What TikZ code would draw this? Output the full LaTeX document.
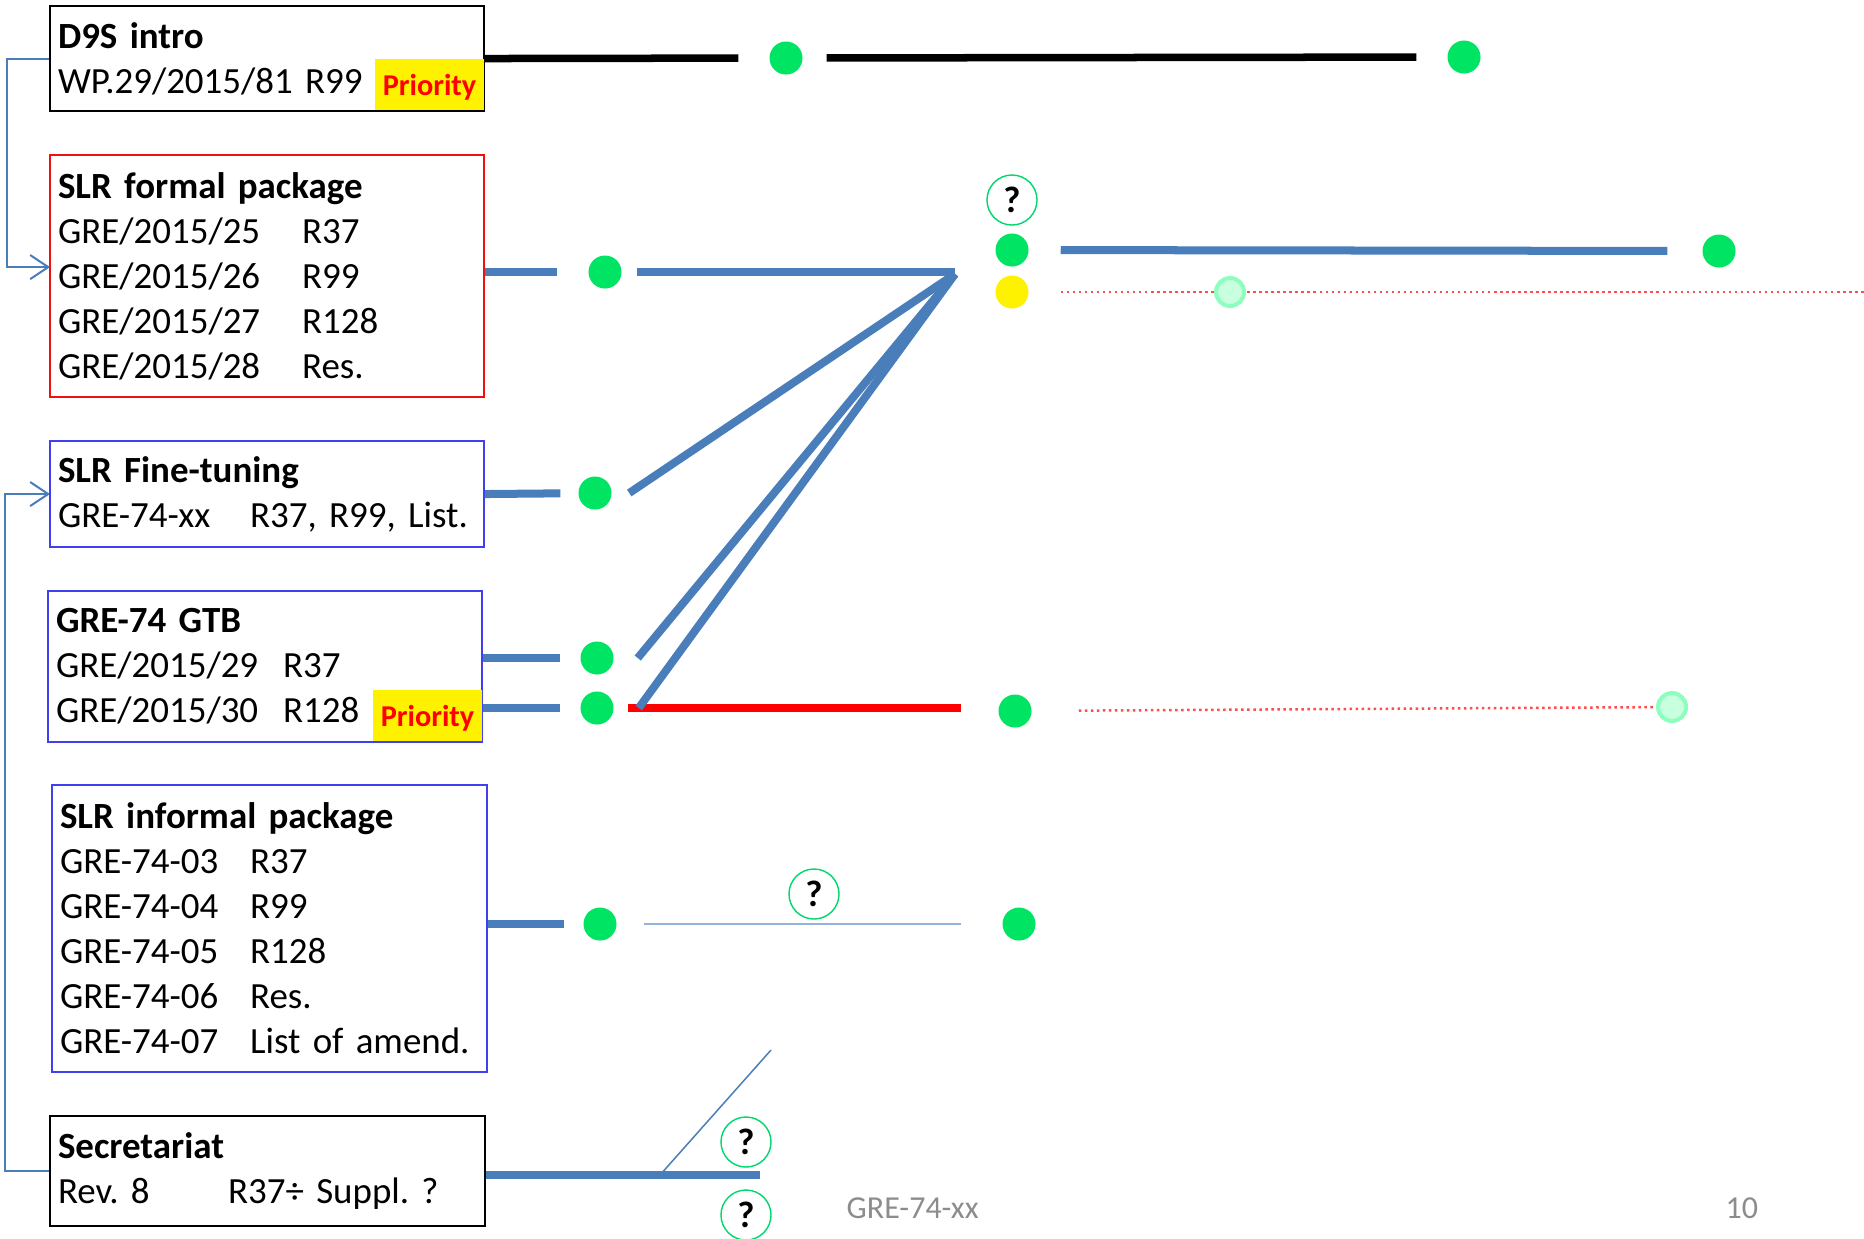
\documentclass[tikz,border=0pt]{standalone}
\usepackage{fontspec}
\setmainfont[WordSpace=0.85]{Carlito}
\usepackage{tikz}
\usetikzlibrary{arrows.meta,positioning,calc}
\pgfdeclarelayer{bg}
\pgfsetlayers{bg,main}
\frenchspacing

\definecolor{barblue}{RGB}{74,126,187}
\definecolor{paleblue}{RGB}{149,179,215}
\definecolor{boxblue}{RGB}{64,64,240}
\definecolor{boxred}{RGB}{240,16,16}
\definecolor{dotgreen}{RGB}{0,228,100}
\definecolor{fadegreen}{RGB}{140,255,190}
\definecolor{fadefill}{RGB}{200,255,222}
\definecolor{ringgreen}{RGB}{0,215,110}
\definecolor{footgray}{RGB}{140,140,140}

\newcommand{\gretxt}{\fontsize{10.5}{12.8}\selectfont}
\newcommand{\tabcol}[2]{\makebox[#1][l]{#2}}

\tikzset{
  docbox/.style={draw, line width=0.6pt, anchor=north west, align=left,
    inner xsep=0.08cm, inner ysep=0pt, outer sep=0pt, font=\gretxt},
  priotag/.style={fill=yellow, anchor=south east, minimum width=1.08cm,
    minimum height=0.51cm, inner sep=0pt, text=red, text height=0.26cm, text depth=0.04cm,
    font=\fontsize{8.6}{10}\selectfont\bfseries},
  gdot/.style={circle, fill=dotgreen, minimum size=0.33cm, inner sep=0pt},
  ydot/.style={gdot, fill=yellow},
  fadedot/.style={circle, fill=fadefill, draw=fadegreen, line width=0.04cm,
    minimum size=0.28cm, inner sep=0pt},
  qmark/.style={circle, draw=ringgreen, line width=0.4pt, fill=white,
    minimum size=0.5cm, inner sep=0pt, font=\fontsize{10.5}{12}\selectfont\bfseries},
  bluebar/.style={barblue, line width=0.08cm},
  blackbar/.style={black, line width=0.075cm},
  redbar/.style={red, line width=0.08cm},
  reddots/.style={red!70, densely dotted, line width=0.025cm},
  feed/.style={barblue, line width=0.02cm, -{Straight Barb[length=0.18cm,width=0.24cm]}},
  foot/.style={text=footgray, inner sep=0pt, font=\fontsize{9.1}{11}\selectfont},
}

\begin{document}
\begin{tikzpicture}[x=0.01cm,y=-0.01cm]
    \useasboundingbox (0,0) rectangle (1864,1238);

    % work item boxes
    \node[docbox, minimum height=1.05cm, text width=4.18cm] (d9s) at (50,6)
      {\textbf{D9S intro}\\WP.29/2015/81 R99};
    \node[priotag] (d9sprio) at (d9s.south east) {Priority};

    \node[docbox, draw=boxred, minimum height=2.42cm, text width=4.18cm] (sf) at (50,155)
      {\textbf{SLR formal package}\\
       \tabcol{2.44cm}{GRE/2015/25}R37\\
       \tabcol{2.44cm}{GRE/2015/26}R99\\
       \tabcol{2.44cm}{GRE/2015/27}R128\\
       \tabcol{2.44cm}{GRE/2015/28}Res.};

    \node[docbox, draw=boxblue, minimum height=1.06cm, text width=4.18cm] (ft) at (50,441)
      {\textbf{SLR Fine-tuning}\\
       \tabcol{1.92cm}{GRE-74-xx}R37, R99, List.};

    \node[docbox, draw=boxblue, minimum height=1.51cm, text width=4.18cm] (gtb) at (48,591)
      {\textbf{GRE-74 GTB}\\
       \tabcol{2.27cm}{GRE/2015/29}R37\\
       \tabcol{2.27cm}{GRE/2015/30}R128};
    \node[priotag] (gtbprio) at (gtb.south east) {Priority};

    \node[docbox, draw=boxblue, minimum height=2.87cm, text width=4.19cm] (si) at (52,785)
      {\textbf{SLR informal package}\\
       \tabcol{1.90cm}{GRE-74-03}R37\\
       \tabcol{1.90cm}{GRE-74-04}R99\\
       \tabcol{1.90cm}{GRE-74-05}R128\\
       \tabcol{1.90cm}{GRE-74-06}Res.\\
       \tabcol{1.90cm}{GRE-74-07}List of amend.};

    \node[docbox, minimum height=1.10cm, text width=4.19cm] (sec) at (50,1116)
      {\textbf{Secretariat}\\
       \tabcol{1.70cm}{Rev. 8}R37÷ Suppl. ?};

    % milestones
    \node[gdot] (d9sa) at (786,58) {};
    \node[gdot] (d9sb) at (1464,57) {};
    \node[gdot] (sfdot) at (605,272) {};
    \node[qmark] (sfq) at (1012,200) {?};
    \node[gdot] (sfnext) at (1012,250) {};
    \node[ydot] (sfyel) at (1012,292) {};
    \node[gdot] (sfend) at (1719,251) {};
    \node[gdot] (ftdot) at (595,493) {};
    \node[gdot] (gtbdota) at (597,658) {};
    \node[gdot] (gtbdotb) at (597,708) {};
    \node[gdot] (gtbnext) at (1015,711) {};
    \node[fadedot] (gtbfade) at (1672,707) {};
    \node[gdot] (sidot) at (600,924) {};
    \node[qmark] (siq) at (814,894) {?};
    \node[gdot] (sinext) at (1019,924) {};
    \node[qmark] (secqa) at (746,1142) {?};
    \node[qmark] (secqb) at (746,1215) {?};
    \node[fadedot] (sffade) at (1230,292) {};
    \coordinate (apex) at (955,274);
    \coordinate (secend) at (760,1175);
    \coordinate (sectip) at (771,1050);
    \coordinate (edge) at (1864,292);

    \node[foot, anchor=base west] (footref) at (846,1218) {GRE-74-xx};
    \node[foot, anchor=base west] (pageno) at (1725,1218) {10};

    \begin{pgfonlayer}{bg}    % timelines under the dots
      \draw[blackbar, shorten >=0.305cm] (d9s.east) -- (d9sa);
      \draw[blackbar, shorten <=0.235cm, shorten >=0.305cm] (d9sa) -- (d9sb);

      \draw[bluebar, shorten >=0.31cm] (sf.east |- sfdot) -- (sfdot);
      \draw[bluebar, shorten <=0.145cm] (sfdot) -- (apex |- sfdot);
      \draw[bluebar, shorten >=0.175cm] (ft.east) -- (ftdot);
      \draw[bluebar] ([xshift=0.17cm]ftdot.east) -- (apex);

      \draw[bluebar, shorten >=0.195cm] (gtb.east |- gtbdota) -- (gtbdota);
      \draw[bluebar, shorten >=0.195cm] (gtb.east |- gtbdotb) -- (gtbdotb);
      \draw[redbar] ([xshift=0.135cm]gtbdotb.east) -- ([xshift=-0.365cm]gtbdotb -| gtbnext.west);
      \draw[bluebar] ([xshift=0.235cm]gtbdota.east) -- (apex);
      \draw[bluebar] ([xshift=0.245cm]gtbdotb.east) -- (apex);
      \draw[reddots, shorten <=0.465cm] (gtbnext) -- (gtbfade);

      \draw[bluebar, shorten <=0.315cm, shorten >=0.345cm] (sfnext) -- (sfend);
      \draw[reddots, shorten <=0.315cm] (sfyel) -- (edge);

      \draw[bluebar, shorten >=0.185cm] (si.east |- sidot) -- (sidot);
      \draw[paleblue, line width=0.02cm, shorten <=0.265cm, shorten >=0.405cm] (sidot) -- (sinext);

      \draw[bluebar] (sec.east |- secend) -- (secend);
      \draw[barblue, line width=0.015cm] ($(sec.east |- secend)!0.636!(secend)$) -- (sectip);

      \draw[feed] (d9s.west) -- ++(-43,0) |- ([yshift=0.09cm]sf.west);
      \draw[feed] (sec.west) -- ++(-45,0) |- (ft.west);
    \end{pgfonlayer}
\end{tikzpicture}
\end{document}
